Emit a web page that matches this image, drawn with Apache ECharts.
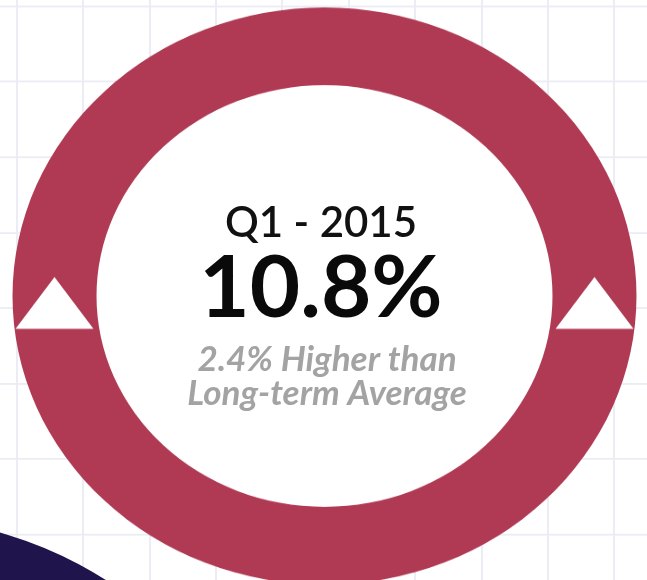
<!DOCTYPE html>
<html>
<head>
<meta charset="utf-8">
<title>Q1 - 2015</title>
<script src="https://cdn.jsdelivr.net/npm/echarts/dist/echarts.min.js"></script>
<style>
  html, body { margin: 0; padding: 0; background: #fff; }
  #wrap { position: relative; width: 647px; height: 580px; overflow: hidden; background: #fff; }
  /* the ring in the picture is a flattened circle, so the ring layer is squeezed a little */
  #ring { position: absolute; left: 0; top: 0; width: 647px; height: 627px; transform: scaleY(0.925); transform-origin: 0 0; }
  #text { position: absolute; left: 0; top: 0; width: 647px; height: 580px; }
</style>
</head>
<body>
<div id="wrap">
  <div id="ring"></div>
  <div id="text"></div>
</div>
<script>
// data
var periods = ['Q1 - 2015']
var rates = [10.8]            // %
var diffs = [2.4]             // % above long-term average
var arrowAngles = [0, 180]    // up arrows on the ring (right, left)
var arrowRadius = [270, 270]

var SY = 0.925
var ringH = 580 / SY
var cx = 324.5
var cy = 296 / SY

var hidden = { axisLine: { show: false }, axisTick: { show: false }, axisLabel: { show: false }, splitLine: { show: false } }
var gridLine = { show: true, lineStyle: { color: '#ececf5', width: 2 } }

var ringChart = echarts.init(document.getElementById('ring'))
var ringOption = {
    animation: false,
    // background grid: grid 0 gives the vertical lines, grid 1 the horizontal ones
    grid: [
        { left: 16.5, right: 647 - 614.1, top: 0, bottom: 0 },
        { left: 0, right: 0, top: 6 / SY, bottom: ringH - 534.5 / SY }
    ],
    xAxis: [
        Object.assign({ type: 'value', gridIndex: 0, min: 0, max: 9, interval: 1 }, hidden, { splitLine: gridLine }),
        Object.assign({ type: 'value', gridIndex: 1, min: 0, max: 1 }, hidden)
    ],
    yAxis: [
        Object.assign({ type: 'value', gridIndex: 0, min: 0, max: 1 }, hidden),
        Object.assign({ type: 'value', gridIndex: 1, min: 0, max: 7, interval: 1 }, hidden, { splitLine: gridLine })
    ],
    polar: { center: [cx, cy], radius: 312 },
    angleAxis: { type: 'value', min: 0, max: 360, startAngle: 0, show: false },
    radiusAxis: { type: 'value', min: 0, max: 312, show: false },
    series: [{
        // white middle
        type: 'pie',
        center: [cx, cy],
        radius: [0, 229],
        silent: true,
        label: { show: false },
        labelLine: { show: false },
        itemStyle: { color: '#ffffff' },
        data: periods.map(function (p, i) { return { name: p, value: rates[i] } })
    }, {
        type: 'pie',
        center: [cx, cy],
        radius: [228, 312],
        silent: true,
        label: { show: false },
        labelLine: { show: false },
        itemStyle: { color: '#b03a54' },
        data: periods.map(function (p, i) { return { name: p, value: rates[i] } })
    }, {
        type: 'scatter',
        coordinateSystem: 'polar',
        symbol: 'triangle',
        symbolSize: [78, 56],
        symbolOffset: [0, 7 / SY],
        silent: true,
        itemStyle: { color: '#ffffff', opacity: 1 },
        data: arrowAngles.map(function (a, i) { return [arrowRadius[i], a] }),
        z: 5
    }]
}
ringChart.setOption(ringOption)

// texts on top, not squeezed
var textChart = echarts.init(document.getElementById('text'))
textChart.setOption({
    animation: false,
    graphic: {
        elements: [{
            type: 'circle',
            shape: { cx: -106, cy: 911, r: 393 },
            style: { fill: '#20144c' }
        }, {
            type: 'text', x: 321, y: 223,
            style: { text: periods[0], fontFamily: 'Lato', fontSize: 42, fontWeight: 600, fill: '#111111', align: 'center', verticalAlign: 'middle' }
        }, {
            type: 'text', x: 321, y: 289,
            style: { text: rates[0].toFixed(1) + '%', fontFamily: 'Lato', fontSize: 87, fontWeight: 'bold', fill: '#0a0a0a', align: 'center', verticalAlign: 'middle' }
        }, {
            type: 'text', x: 327, y: 377,
            style: {
                text: diffs[0].toFixed(1) + '% Higher than\nLong-term Average',
                fontFamily: 'Lato', fontSize: 35, fontWeight: 'bold', fontStyle: 'italic', lineHeight: 34,
                fill: '#a3a3a3', align: 'center', verticalAlign: 'middle'
            }
        }]
    }
})
</script>
</body>
</html>
